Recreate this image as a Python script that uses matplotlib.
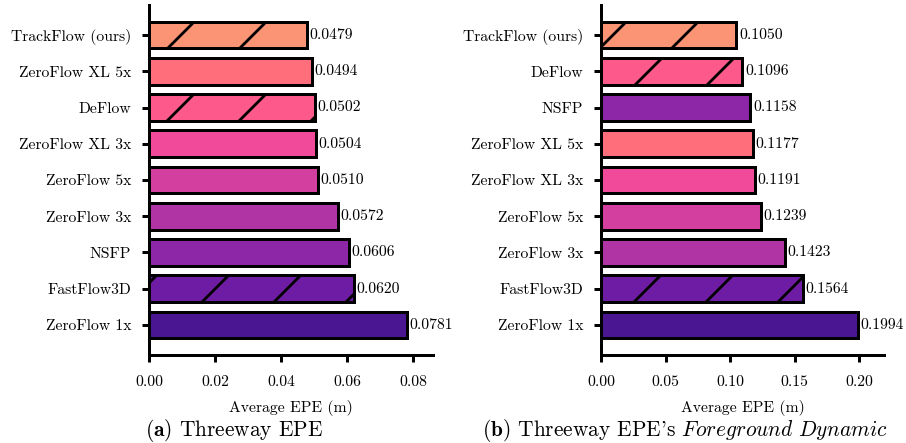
import matplotlib
matplotlib.use("Agg")
import matplotlib.pyplot as plt
import numpy as np

# ---------------- data ----------------
methods_a = ["TrackFlow (ours)", "ZeroFlow XL 5x", "DeFlow", "ZeroFlow XL 3x",
             "ZeroFlow 5x", "ZeroFlow 3x", "NSFP", "FastFlow3D", "ZeroFlow 1x"]
values_a = [0.0479, 0.0494, 0.0502, 0.0504, 0.0510, 0.0572, 0.0606, 0.0620, 0.0781]

methods_b = ["TrackFlow (ours)", "DeFlow", "NSFP", "ZeroFlow XL 5x", "ZeroFlow XL 3x",
             "ZeroFlow 5x", "ZeroFlow 3x", "FastFlow3D", "ZeroFlow 1x"]
values_b = [0.1050, 0.1096, 0.1158, 0.1177, 0.1191, 0.1239, 0.1423, 0.1564, 0.1994]

ticks_a = [0.00, 0.02, 0.04, 0.06, 0.08]
ticks_b = [0.00, 0.05, 0.10, 0.15, 0.20]

method_colors = {
    "TrackFlow (ours)": "#FB9474",
    "ZeroFlow XL 5x": "#FE6F7B",
    "DeFlow": "#FD5A8B",
    "ZeroFlow XL 3x": "#F24A9B",
    "ZeroFlow 5x": "#D33F9F",
    "ZeroFlow 3x": "#B134A4",
    "NSFP": "#8E27A7",
    "FastFlow3D": "#6F1CA5",
    "ZeroFlow 1x": "#4A1691",
}
hatched_methods = ["TrackFlow (ours)", "DeFlow", "FastFlow3D"]

xlabel = "Average EPE (m)"
title_a = r"$\mathbf{(a)}$ Threeway EPE"
title_b = r"$\mathbf{(b)}$ Threeway EPE's $\mathit{Foreground\ Dynamic}$"

# ---------------- style ----------------
DPI = 432
W, H = 906, 443


def px(v):
    return v * 72.0 / DPI


plt.rcParams.update({
    "font.family": "cmr10",
    "mathtext.fontset": "cm",
    "axes.formatter.use_mathtext": True,
    "hatch.linewidth": px(2.8),
    "hatch.color": "black",
    "font.size": px(15.7),
})

fig = plt.figure(figsize=(W / DPI, H / DPI), dpi=DPI)
ax_a = fig.add_axes([149 / W, 1 - 355 / H, 284 / W, 350 / H])
ax_b = fig.add_axes([601 / W, 1 - 355 / H, 283 / W, 350 / H])


def draw(ax, methods, values, ticks):
    y = np.arange(len(methods))
    cols = [method_colors[m] for m in methods]
    hatches = ["//" if m in hatched_methods else None for m in methods]
    bars = ax.barh(y, values, height=0.74, color=cols, edgecolor="black",
                   linewidth=px(3))
    for b, h in zip(bars, hatches):
        if h:
            b.set_hatch(h)
    for yi, v in zip(y, values):
        ax.annotate(f"{v:.4f}", xy=(v, yi), xytext=(px(2.5), 0),
                    textcoords="offset points", ha="left", va="center",
                    fontsize=px(15.7))
    ax.set_yticks(y)
    ax.set_yticklabels(methods)
    ax.set_ylim(len(methods) - 1 + 0.83, -0.83)
    ax.set_xlim(0, max(values) * 1.1)
    ax.set_xticks(ticks)
    ax.set_xticklabels([f"{t:.2f}" for t in ticks])
    for s in ["top", "right"]:
        ax.spines[s].set_visible(False)
    for s in ["left", "bottom"]:
        ax.spines[s].set_linewidth(px(3))
    ax.tick_params(axis="both", width=px(3), length=px(7), labelsize=px(15.7))
    ax.tick_params(axis="y", pad=px(11))
    ax.tick_params(axis="x", pad=px(13))
    ax.set_xlabel(xlabel, fontsize=px(15.7), labelpad=px(11))


draw(ax_a, methods_a, values_a, ticks_a)
draw(ax_b, methods_b, values_b, ticks_b)

fig.text(234 / W, 1 - 436 / H, title_a, ha="center", va="baseline", fontsize=px(21.4))
fig.text(685 / W, 1 - 436 / H, title_b, ha="center", va="baseline", fontsize=px(21.4))

fig.savefig("out.png", dpi=DPI, facecolor="white")
